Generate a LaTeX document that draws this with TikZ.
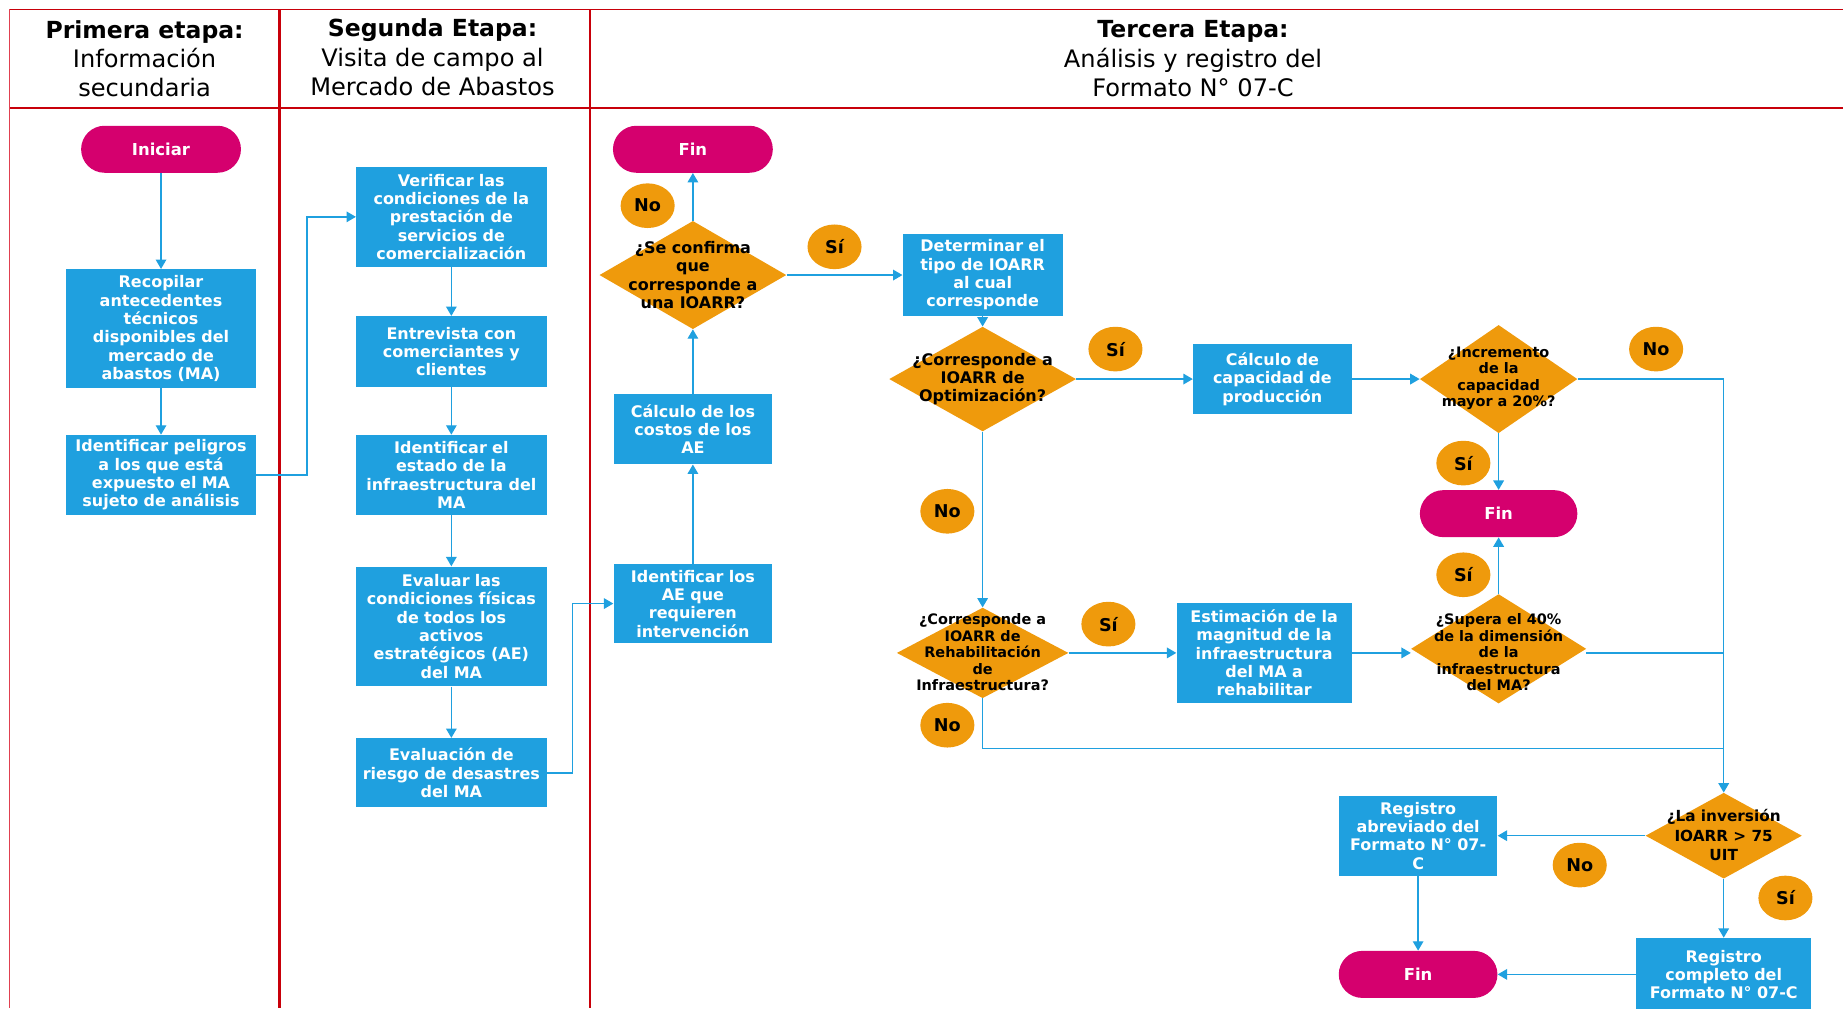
\documentclass[tikz,border=0pt]{standalone}
\usepackage{fontspec}
\setmainfont{DejaVu Sans}
\usetikzlibrary{shapes.geometric,arrows.meta}
\definecolor{boxblue}{HTML}{1FA0DF}
\definecolor{decor}{HTML}{EF9A0C}
\definecolor{pillc}{HTML}{D5006E}
\definecolor{framec}{HTML}{C8000A}
\definecolor{framel}{HTML}{E04050}
\tikzset{
  proc/.style={fill=boxblue, text=white, font=\bfseries\fontsize{13.6}{15.6}\selectfont, align=center, inner sep=0pt},
  pill/.style={fill=pillc, text=white, rounded corners=20pt, minimum width=136pt, minimum height=40pt, inner sep=0pt, font=\bfseries\fontsize{14}{16}\selectfont},
  dia/.style={diamond, fill=decor, inner sep=0pt},
  dtext/.style={align=center, inner sep=0pt, font=\bfseries\fontsize{13.6}{15.6}\selectfont},
  dsmall/.style={align=center, inner sep=0pt, font=\bfseries\fontsize{12.3}{14}\selectfont},
  lab/.style={ellipse, fill=decor, minimum width=46pt, minimum height=38pt, inner sep=0pt, font=\bfseries\fontsize{15}{17}\selectfont},
  arr/.style={draw=boxblue, line width=1.2pt, -{Triangle[length=8pt,width=9pt]}},
  ln/.style={draw=boxblue, line width=1.2pt},
  fr/.style={draw=framec, line width=1.3pt},
  frl/.style={draw=framel, line width=1.2pt},
  frd/.style={draw=framec, line width=2.2pt},
  hdr/.style={align=center, inner sep=0pt, font=\fontsize{20.5}{25}\selectfont}
}
\begin{document}
\begin{tikzpicture}[x=1pt,y=-1pt]
\useasboundingbox (0,0) rectangle (1568,858);
% frame
\draw[fr] (8,8) -- (1568,8);
\draw[fr] (8,92) -- (1568,92);
\draw[frl] (8,8) -- (8,858);
\draw[frd] (238,8) -- (238,858);
\draw[frd] (502,8) -- (502,858);
% headers
\node[hdr] (h1) at (123,50) {{\bfseries\fontsize{20}{25}\selectfont Primera etapa:}\\Información\\secundaria};
\node[hdr] (h2) at (368,49) {{\bfseries\fontsize{20}{25}\selectfont Segunda Etapa:}\\Visita de campo al\\Mercado de Abastos};
\node[hdr] (h3) at (1015,50) {{\bfseries\fontsize{20}{25}\selectfont Tercera Etapa:}\\Análisis y registro del\\Formato N° 07-C};
% column 1
\node[pill] (ini) at (137,127) {Iniciar};
\node[proc, minimum width=162pt, minimum height=101pt, text width=162pt] (recop) at (137,279.5) {Recopilar\\antecedentes\\técnicos\\disponibles del\\mercado de\\abastos (MA)};
\node[proc, minimum width=162pt, minimum height=68pt, text width=162pt] (idpel) at (137,404) {Identificar peligros\\a los que está\\expuesto el MA\\sujeto de análisis};
% column 2
\node[proc, minimum width=162pt, minimum height=85pt, text width=162pt] (verif) at (384,184.5) {Verificar las\\condiciones de la\\prestación de\\servicios de\\comercialización};
\node[proc, minimum width=162pt, minimum height=60pt, text width=162pt] (entre) at (384,299) {Entrevista con\\comerciantes y\\clientes};
\node[proc, minimum width=162pt, minimum height=68pt, text width=162pt] (idest) at (384,404) {Identificar el\\estado de la\\infraestructura del\\MA};
\node[proc, minimum width=162pt, minimum height=102pt, text width=162pt] (evalc) at (384,533) {Evaluar las\\condiciones físicas\\de todos los\\activos\\estratégicos (AE)\\del MA};
\node[proc, minimum width=162pt, minimum height=59pt, text width=162pt] (evrisk) at (384,657.5) {Evaluación de\\riesgo de desastres\\del MA};
% column 3
\node[pill] (fin1) at (589.5,127) {Fin};
\node[dia, minimum width=159pt, minimum height=92pt] (d1) at (589.5,234) {};
\node[dtext] (d1t) at (589.5,234) {¿Se confirma\\que\\corresponde a\\una IOARR?};
\node[proc, minimum width=135pt, minimum height=60pt, text width=135pt] (calcc) at (589.5,365) {Cálculo de los\\costos de los\\AE};
\node[proc, minimum width=135pt, minimum height=67pt, text width=135pt] (idae) at (589.5,513.5) {Identificar los\\AE que\\requieren\\intervención};
\node[proc, minimum width=136pt, minimum height=69pt, text width=136pt] (determ) at (836,234) {Determinar el\\tipo de IOARR\\al cual\\corresponde};
\node[dia, minimum width=159pt, minimum height=89pt] (d2) at (836,322.5) {};
\node[dtext] (d2t) at (836,322.5) {¿Corresponde a\\IOARR de\\Optimización?};
\node[proc, minimum width=135pt, minimum height=60pt, text width=135pt] (calcap) at (1082.5,322.5) {Cálculo de\\capacidad de\\producción};
\node[dia, minimum width=134pt, minimum height=92pt] (d3) at (1275,322.5) {};
\node[dsmall] (d3t) at (1275,322) {¿Incremento\\de la\\capacidad\\mayor a 20\%?};
\node[pill, minimum width=134pt] (fin2) at (1275,437) {Fin};
\node[dia, minimum width=146pt, minimum height=77pt] (d4) at (836,555.5) {};
\node[dsmall] (d4t) at (836,555) {¿Corresponde a\\IOARR de\\Rehabilitación\\de\\Infraestructura?};
\node[proc, minimum width=149pt, minimum height=85pt, text width=149pt] (estim) at (1075.5,555.5) {Estimación de la\\magnitud de la\\infraestructura\\del MA a\\rehabilitar};
\node[dia, minimum width=149pt, minimum height=93pt] (d5) at (1275,552) {};
\node[dsmall] (d5t) at (1275,555) {¿Supera el 40\%\\de la dimensión\\de la\\infraestructura\\del MA?};
\node[dia, minimum width=133pt, minimum height=73pt] (d6) at (1466.5,711) {};
\node[dtext, font=\bfseries\fontsize{13}{16.5}\selectfont] (d6t) at (1466.5,710.5) {¿La inversión\\IOARR > 75\\UIT};
\node[proc, minimum width=135pt, minimum height=68pt, text width=135pt] (regab) at (1206.5,711) {Registro\\abreviado del\\Formato N° 07-\\C};
\node[pill, minimum width=135pt] (fin3) at (1206.5,829) {Fin};
\node[proc, minimum width=149pt, minimum height=62pt, text width=149pt] (regco) at (1466.5,829) {Registro\\completo del\\Formato N° 07-C};
% labels
\node[lab] (l1) at (551,175) {No};
\node[lab] (l2) at (710,210) {Sí};
\node[lab] (l3) at (949,297) {Sí};
\node[lab] (l4) at (1409,297) {No};
\node[lab] (l5) at (1245,394) {Sí};
\node[lab] (l6) at (806,435) {No};
\node[lab] (l7) at (1245,489) {Sí};
\node[lab] (l8) at (943,531) {Sí};
\node[lab] (l9) at (806,617) {No};
\node[lab] (l10) at (1344,736) {No};
\node[lab] (l11) at (1519,764) {Sí};
% connectors column 1-2
\draw[arr] (ini.south) -- (recop.north);
\draw[arr] (recop.south) -- (idpel.north);
\draw[arr] (idpel.east) -- ++(43,0) |- (verif.west);
\draw[arr] (verif.south) -- (entre.north);
\draw[arr] (entre.south) -- (idest.north);
\draw[arr] (idest.south) -- (evalc.north);
\draw[arr] (evalc.south) -- (evrisk.north);
\draw[arr] (evrisk.east) -- ++(22,0) |- (idae.west);
% column 3
\draw[arr] (idae.north) -- (calcc.south);
\draw[arr] (calcc.north) -- (d1.south);
\draw[arr] (d1.north) -- (fin1.south);
\draw[arr] (d1.east) -- (determ.west);
\draw[arr] (determ.south) -- (d2.north);
\draw[arr] (d2.east) -- (calcap.west);
\draw[arr] (calcap.east) -- (d3.west);
\draw[arr] (d3.south) -- (fin2.north);
\draw[arr] (d2.south) -- (d4.north);
\draw[arr] (d4.east) -- (d4.east -| estim.west);
\draw[arr] (estim.east) -- (estim.east -| d5.west);
\draw[arr] (d5.north) -- (fin2.south);
\draw[arr] (d3.east) -| (d6.north);
\coordinate (j1) at (1466.5,555.5);
\draw[ln] (estim.east -| d5.east) -- (j1);
\coordinate (j2) at (1466.5,637);
\draw[ln] (d4.south) |- (j2);
\draw[arr] (d6.west) -- (regab.east);
\draw[arr] (regab.south) -- (fin3.north);
\draw[arr] (d6.south) -- (regco.north);
\draw[arr] (regco.west) -- (regco.west -| fin3.east);
\end{tikzpicture}
\end{document}
